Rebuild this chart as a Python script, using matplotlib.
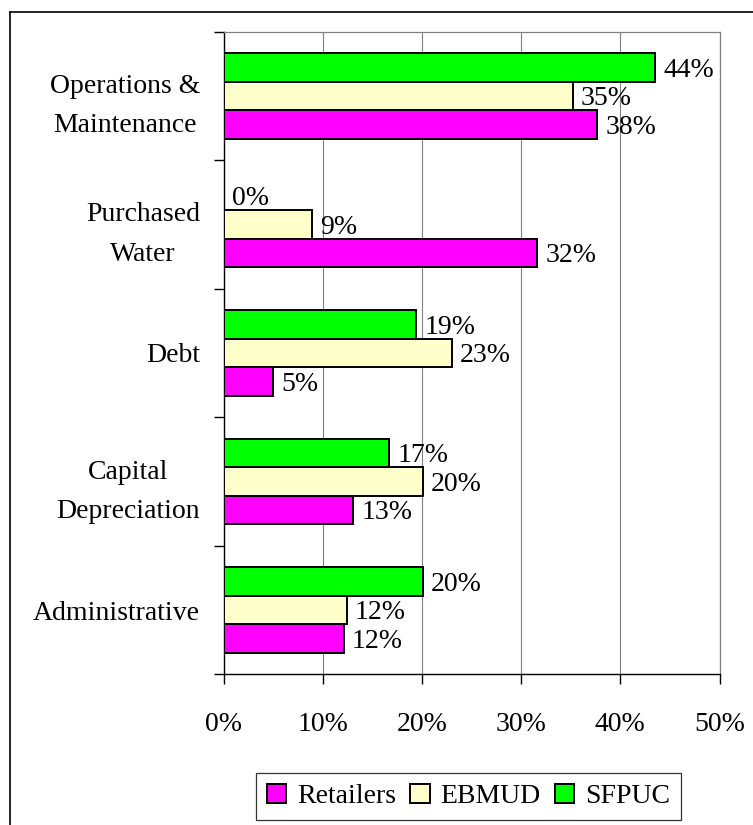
import numpy as np
import matplotlib.pyplot as plt
from matplotlib.lines import Line2D

# data (percent)
categories = ["Operations &\nMaintenance", "Purchased\nWater", "Debt",
              "Capital\nDepreciation", "Administrative"]
series = ["Retailers", "EBMUD", "SFPUC"]
retailers = [37.7, 31.6, 5.0, 13.1, 12.1]
ebmud = [35.2, 8.9, 23.0, 20.1, 12.4]
sfpuc = [43.5, 0.0, 19.4, 16.7, 20.1]
colors = ["#FF00FF", "#FFFFCC", "#00FF00"]

plt.rcParams["font.family"] = ["Liberation Serif", "DejaVu Serif"]
FS = 20

fig = plt.figure(figsize=(7.53, 8.25), dpi=100)
ax = fig.add_axes([223.5 / 753, 1 - 674.3 / 825, 496 / 753, 642.6 / 825])

y = np.arange(len(categories))
h = 0.222
offsets = [h, 0, -h]  # retailers bottom, sfpuc top (axis inverted)
for vals, name, col, off in zip([retailers, ebmud, sfpuc], series, colors, offsets):
    bars = ax.barh(y + off, vals, height=h, color=col, edgecolor="black",
                   linewidth=1.4, label=name, zorder=3)
    for v, yy in zip(vals, y + off):
        ax.annotate(f"{round(v)}%", (v, yy), xytext=(6, -2),
                    textcoords="offset points", va="center", ha="left",
                    fontsize=FS, zorder=4)

ax.set_xlim(0, 50)
ax.set_ylim(4.5, -0.5)
ax.set_xticks(np.arange(0, 51, 10))
ax.set_xticklabels([f"{t}%" for t in range(0, 51, 10)], fontsize=FS)
ax.set_yticks(y)
ax.set_yticklabels(categories, fontsize=FS, multialignment="center",
                   linespacing=1.75)
ax.set_yticks(np.arange(-0.5, 4.6, 1), minor=True)
ax.tick_params(axis="y", which="major", length=0, pad=17)
ax.tick_params(axis="y", which="minor", length=7, width=1, direction="out")
ax.tick_params(axis="x", length=7, width=1, direction="out", pad=20)

ax.grid(axis="x", color="#808080", linewidth=0.8, zorder=0)
for s in ["top", "right"]:
    ax.spines[s].set_color("#808080")
    ax.spines[s].set_linewidth(0.9)
for s in ["left", "bottom"]:
    ax.spines[s].set_color("black")
    ax.spines[s].set_linewidth(1.0)

leg = fig.legend(loc="center", bbox_to_anchor=(468.5 / 753, 1 - 796.5 / 825),
                 ncol=3, fontsize=FS, frameon=True, fancybox=False,
                 edgecolor="black", handlelength=0.7, handleheight=0.7,
                 handletextpad=0.4, columnspacing=0.5, borderpad=0.4,
                 borderaxespad=0)
leg.get_frame().set_linewidth(0.9)

# outer frame (top and left only visible)
fig.add_artist(Line2D([10 / 753, 10 / 753], [0, 1 - 11.7 / 825],
                      transform=fig.transFigure, color="black", linewidth=1.2))
fig.add_artist(Line2D([10 / 753, 1], [1 - 11.7 / 825, 1 - 11.7 / 825],
                      transform=fig.transFigure, color="black", linewidth=1.2))

fig.savefig("out.png", dpi=100, facecolor="white")
